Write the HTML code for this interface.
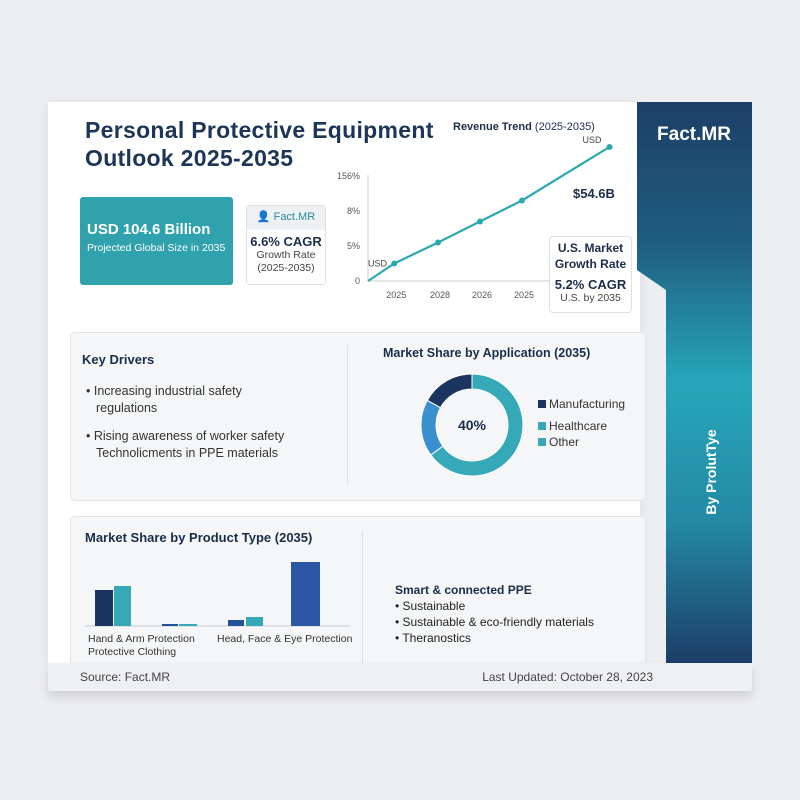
<!DOCTYPE html>
<html><head><meta charset="utf-8"><style>
*{margin:0;padding:0;box-sizing:border-box}
body{width:800px;height:800px;background:#eceef1;font-family:"Liberation Sans",sans-serif;position:relative;overflow:hidden;color:#1b2d4a}
.a{position:absolute}
</style></head><body>
<div class="a" style="left:48px;top:102px;width:592px;height:562px;background:#fff;box-shadow:0 2px 10px rgba(0,0,0,0.08)"></div>
<div class="a" style="left:85px;top:116px;font-size:23px;font-weight:bold;line-height:28px;color:#1d3557;letter-spacing:0.3px">Personal Protective Equipment<br>Outlook 2025-2035</div>
<div class="a" style="left:80px;top:197px;width:153px;height:88px;background:#2fa2ad;border-radius:3px;color:#fff;padding:24px 0 0 7px"><div style="font-size:15px;font-weight:bold">USD 104.6 Billion</div><div style="font-size:10.5px;margin-top:4px">Projected Global Size in 2035</div></div>
<div class="a" style="left:246px;top:205px;width:80px;height:80px;border:1px solid #dde1e6;border-radius:3px;text-align:center;background:#fff"><div style="background:#eef1f4;height:24px;font-size:11px;color:#2a8a9a;line-height:22px">&#128100; Fact.MR</div><div style="font-size:13px;font-weight:bold;margin-top:4px">6.6% CAGR</div><div style="font-size:10.5px;color:#444;line-height:13px">Growth Rate<br>(2025-2035)</div></div>
<div class="a" style="left:453px;top:121px;font-size:11px"><b>Revenue Trend</b> (2025-2035)</div>
<svg class="a" id="lc" style="left:330px;top:135px" width="300" height="170"></svg>
<div class="a" style="left:573px;top:186px;font-size:13px;font-weight:bold">$54.6B</div>
<div class="a" style="left:549px;top:236px;width:83px;height:77px;border:1px solid #dde1e6;border-radius:4px;background:#fff;text-align:center;padding-top:3px"><div style="font-size:12px;font-weight:bold;line-height:16px">U.S. Market<br>Growth Rate</div><div style="font-size:13px;font-weight:bold;margin-top:5px">5.2% CAGR</div><div style="font-size:10.5px;color:#444">U.S. by 2035</div></div>
<div class="a" style="left:70px;top:332px;width:576px;height:169px;background:#f4f6f8;border:1px solid #e1e4e8;border-radius:5px"></div>
<div class="a" style="left:347px;top:345px;width:1px;height:140px;background:#dde1e6"></div>
<div class="a" style="left:82px;top:351px;font-size:13px;line-height:17px"><b>Key Drivers</b>
<div style="margin-top:15px;font-size:12.5px;padding-left:14px;text-indent:-10px;color:#333">• Increasing industrial safety<br>regulations</div>
<div style="margin-top:11px;font-size:12.5px;padding-left:14px;text-indent:-10px;color:#333">• Rising awareness of worker safety<br>Technolicments in PPE materials</div></div>
<div class="a" style="left:383px;top:346px;font-size:12.5px;font-weight:bold">Market Share by Application (2035)</div>
<svg class="a" id="dn" style="left:410px;top:360px" width="240" height="130"></svg>
<div class="a" style="left:70px;top:516px;width:576px;height:160px;background:#f4f6f8;border:1px solid #e1e4e8;border-radius:5px"></div>
<div class="a" style="left:362px;top:530px;width:1px;height:133px;background:#dde1e6"></div>
<div class="a" style="left:85px;top:530px;font-size:13px;font-weight:bold">Market Share by Product Type (2035)</div>
<svg class="a" id="bc" style="left:60px;top:550px" width="300" height="113"></svg>
<div class="a" style="left:395px;top:582px;font-size:12px;line-height:16px;color:#222"><b style="color:#1b2d4a">Smart &amp; connected PPE</b><br>• Sustainable<br>• Sustainable &amp; eco-friendly materials<br>• Theranostics</div>
<div class="a" style="left:48px;top:663px;width:704px;height:28px;background:#eef0f3;box-shadow:0 6px 10px rgba(0,0,0,0.12);font-size:12px;color:#444"><span class="a" style="left:32px;top:7px">Source: Fact.MR</span><span class="a" style="right:99px;top:7px">Last Updated: October 28, 2023</span></div>
<svg class="a" style="left:636px;top:102px" width="117" height="562">
<defs><linearGradient id="sg" x1="0" y1="0" x2="0" y2="1"><stop offset="0" stop-color="#1c3f66"/><stop offset="0.25" stop-color="#1f5d80"/><stop offset="0.5" stop-color="#27a6b9"/><stop offset="0.75" stop-color="#2489a4"/><stop offset="1" stop-color="#1b3e68"/></linearGradient></defs>
<path d="M1 0 H116 V561 H30 V188 L1 168 Z" fill="url(#sg)"/>
<text x="58" y="38" fill="#fff" font-size="19" font-weight="bold" text-anchor="middle" font-family="Liberation Sans">Fact.MR</text>
<text transform="translate(80,370) rotate(-90)" fill="#fff" font-size="14" font-weight="bold" text-anchor="middle" font-family="Liberation Sans">By ProlutTye</text>
</svg>
<script>
const NS="http://www.w3.org/2000/svg";
function mk(p,t,a){const e=document.createElementNS(NS,t);for(const k in a)e.setAttribute(k,a[k]);p.appendChild(e);return e;}
// line chart
const lineVals=[0,0.5,1.1,1.7,2.3,3.83];
const lineX=[0,0.75,2,3.2,4.4,6.9];
const yTicks=[0,1,2,3];
const yTickLabels=["0","5%","8%","156%"];
const xTickPos=[0.75,2,3.2,4.4];
const xTickLabels=["2025","2028","2026","2025"];
const lc=document.getElementById('lc');
const lx=v=>38+v*35, ly=v=>146-v*35;
mk(lc,'line',{x1:38,y1:40,x2:38,y2:146,stroke:'#ccc'});
mk(lc,'line',{x1:38,y1:146,x2:220,y2:146,stroke:'#ccc'});
yTicks.forEach((t,i)=>{const e=mk(lc,'text',{x:30,y:ly(t)+3,'font-size':9,fill:'#555','text-anchor':'end'});e.textContent=yTickLabels[i];

});
xTickPos.forEach((t,i)=>{const e=mk(lc,'text',{x:lx(t)+2,y:163,'font-size':9,fill:'#555','text-anchor':'middle'});e.textContent=xTickLabels[i];

});
const pl=mk(lc,'polyline',{points:lineVals.map((v,i)=>lx(lineX[i])+','+ly(v)).join(' '),fill:'none',stroke:'#2aaab0','stroke-width':2.2});


lineVals.forEach((v,i)=>{if(i==0)return;const c=mk(lc,'circle',{cx:lx(lineX[i]),cy:ly(v),r:3,fill:'#2aaab0'});

});
let t1=mk(lc,'text',{x:38,y:ly(lineVals[1])+3,'font-size':9,fill:'#444'});t1.textContent='USD';
let t2=mk(lc,'text',{x:lx(lineX[5])-8,y:ly(lineVals[5])-4,'font-size':9,fill:'#444','text-anchor':'end'});t2.textContent='USD';
// donut
const appLabels=["Manufacturing","Healthcare","Other"];
const appVals=[17,65,18];
const appColors=["#1b3560","#35a9b8","#3a8fcf"];
const dn=document.getElementById('dn');
const cx=62,cy=65,R=51,r=36;
let ang=-90-appVals[0]*3.6;
[0,1,2].forEach(i=>{const a0=ang*Math.PI/180,a1=(ang+appVals[i]*3.6)*Math.PI/180;ang+=appVals[i]*3.6;
const lg=appVals[i]>50?1:0;
const d=`M${cx+R*Math.cos(a0)} ${cy+R*Math.sin(a0)} A${R} ${R} 0 ${lg} 1 ${cx+R*Math.cos(a1)} ${cy+R*Math.sin(a1)} L${cx+r*Math.cos(a1)} ${cy+r*Math.sin(a1)} A${r} ${r} 0 ${lg} 0 ${cx+r*Math.cos(a0)} ${cy+r*Math.sin(a0)} Z`;
const p=mk(dn,'path',{d,fill:appColors[i],stroke:'#fff','stroke-width':1});

});
let ct=mk(dn,'text',{x:cx,y:cy+5,'font-size':14,'font-weight':'bold',fill:'#1b2d4a','text-anchor':'middle'});ct.textContent='40%';
const legY=[48,70,86];
appLabels.forEach((l,i)=>{const s=mk(dn,'rect',{x:128,y:legY[i]-8,width:8,height:8,fill:i==0?'#1b3560':'#35a9b8'});


const t=mk(dn,'text',{x:139,y:legY[i],'font-size':12,fill:'#333'});t.textContent=l;

});
// bar chart
const barVals=[36,40,2,2,6,9,64];
const barColors=["#1b3560","#35a9b8","#25519a","#35a9b8","#25519a","#35a9b8","#2a56a3"];
const barLeft=[35,54,102,119,168,186,231];
const barW=[18,17,16,18,16,17,29];
const bc=document.getElementById('bc');
const by=v=>76-v;
mk(bc,'line',{x1:25,y1:76,x2:290,y2:76,stroke:'#ccc'});
barVals.forEach((v,i)=>{const b=mk(bc,'rect',{x:barLeft[i],y:by(v),width:barW[i],height:v,fill:barColors[i]});

});
const cl=[["Hand & Arm Protection",28,92],["Protective Clothing",28,105],["Head, Face & Eye Protection",157,92]];
cl.forEach(c=>{const t=mk(bc,'text',{x:c[1],y:c[2],'font-size':10.5,fill:'#333'});t.textContent=c[0];

});
</script>
</body></html>
